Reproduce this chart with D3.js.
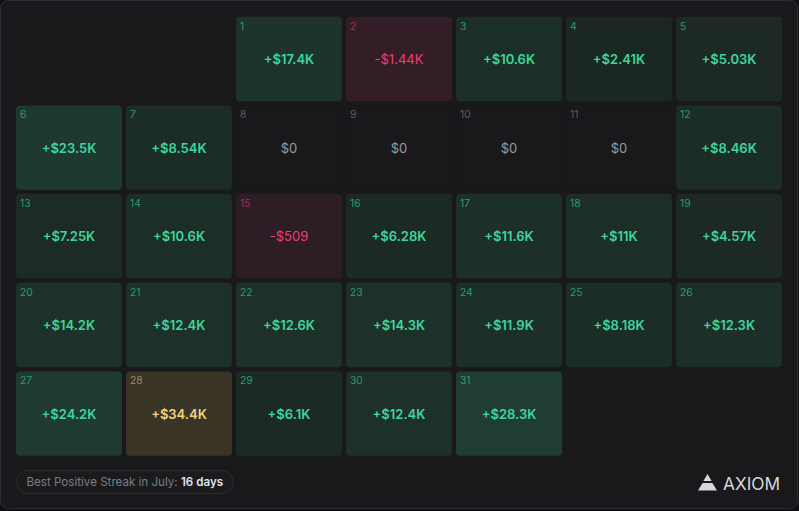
<!DOCTYPE html>
<html><head><meta charset="utf-8">
<script src="https://cdn.jsdelivr.net/npm/d3@7"></script>
<style>
html,body{margin:0;padding:0;background:#111113;}
svg{display:block;font-family:Inter,"Noto Sans",sans-serif;}
</style></head>
<body>
<svg id="chart" width="799" height="511"></svg>
<script>
// Daily P&L for July (day index → value in USD)
const days = d3.range(1, 32);
const pnl = [17400, -1440, 10600, 2410, 5030, 23500, 8540, 0, 0, 0, 0, 8460,
  7250, 10600, -509, 6280, 11600, 11000, 4570, 14200, 12400, 12600, 14300,
  11900, 8180, 12300, 24200, 34400, 6100, 12400, 28300];
const weekdayOffset = 2; // July 1 falls on the 3rd column
const footerLabel = "Best Positive Streak in July: ";
const footerValue = "16 days";
const brand = "AXIOM";

const W = 799, H = 511;
const svg = d3.select("#chart");

svg.append("rect").attr("x", 0.5).attr("y", 0.5).attr("width", W - 2).attr("height", H - 3)
  .attr("rx", 8).attr("fill", "#19191b").attr("stroke", "#2b2e36");

const cols = d3.range(7), rows = d3.range(5);
const x = d3.scaleBand().domain(cols).range([12, 786]).paddingInner(4 / 110).paddingOuter(0.036);
const y = d3.scaleBand().domain(rows).range([14.6, 458]).paddingInner(4.2 / 88.6).paddingOuter(0.024);

const maxV = d3.max(pnl);
const maxGreenOther = d3.max(pnl.filter(v => v < maxV));
const minV = d3.min(pnl);
const greenBg = d3.scaleLinear().domain([0, maxGreenOther]).range(["#1b2522", "#1f3d33"]).interpolate(d3.interpolateRgb);
const redBg = d3.scaleLinear().domain([0, minV]).range(["#2a1d23", "#331e28"]).interpolate(d3.interpolateRgb);

const fmt = d3.format(".3~s");
function label(v) {
  if (v === 0) return "$0";
  const s = fmt(Math.abs(v)).replace("k", "K");
  return (v > 0 ? "+$" : "-$") + s;
}

const data = days.map((d, i) => {
  const pos = i + weekdayOffset;
  return { day: d, v: pnl[i], col: pos % 7, row: Math.floor(pos / 7) };
});

const g = svg.append("g");
const cell = g.selectAll("g.cell").data(data).join("g").attr("class", "cell")
  .attr("transform", d => `translate(${x(d.col)},${y(d.row)})`);

cell.append("rect")
  .attr("width", x.bandwidth()).attr("height", y.bandwidth()).attr("rx", 4)
  .attr("fill", d => d.v === maxV ? "#3a3427" : d.v > 0 ? greenBg(d.v) : d.v < 0 ? redBg(d.v) : "#19191b");

cell.append("text")
  .attr("x", 4).attr("y", 13)
  .attr("font-size", 10.3)
  .attr("fill", d => d.v === maxV ? "#9c8b5e" : d.v > 0 ? "#2f9a72" : d.v < 0 ? "#a53159" : "#5c5c62")
  .text(d => d.day);

cell.append("text")
  .attr("x", x.bandwidth() / 2).attr("y", y.bandwidth() / 2 + 5)
  .attr("text-anchor", "middle")
  .attr("font-size", 13)
  .attr("font-weight", d => d.v > 0 ? 600 : 400)
  .attr("fill", d => d.v === maxV ? "#f2d27e" : d.v > 0 ? "#3dd69c" : d.v < 0 ? "#ec3f7a" : "#9a9aa2")
  .text(d => label(d.v));

// footer pill
const pill = svg.append("g");
const ft = pill.append("text").attr("x", 26.5).attr("y", 486).attr("font-size", 11.6);
ft.append("tspan").attr("fill", "#7c7c84").text(footerLabel);
ft.append("tspan").attr("fill", "#e4e4e8").attr("font-weight", 600).text(footerValue);
const tw = ft.node().getComputedTextLength();
pill.insert("rect", "text").attr("x", 16.5).attr("y", 470.5).attr("width", tw + 20).attr("height", 23)
  .attr("rx", 11.5).attr("fill", "#1b1b1e").attr("stroke", "#2c2c31");

// brand
const logo = svg.append("g").attr("fill", "#d6d6dc");
logo.append("path").attr("d", "M707.5,474 L711.6,481 L703.4,481 Z");
logo.append("path").attr("d", "M702.6,483 L712.4,483 L717,490.5 L698,490.5 Z");
svg.append("text").attr("x", 723).attr("y", 489.5).attr("font-size", 17.3)
  .attr("fill", "#d6d6dc").attr("font-weight", 400).text(brand);
</script>
</body></html>
